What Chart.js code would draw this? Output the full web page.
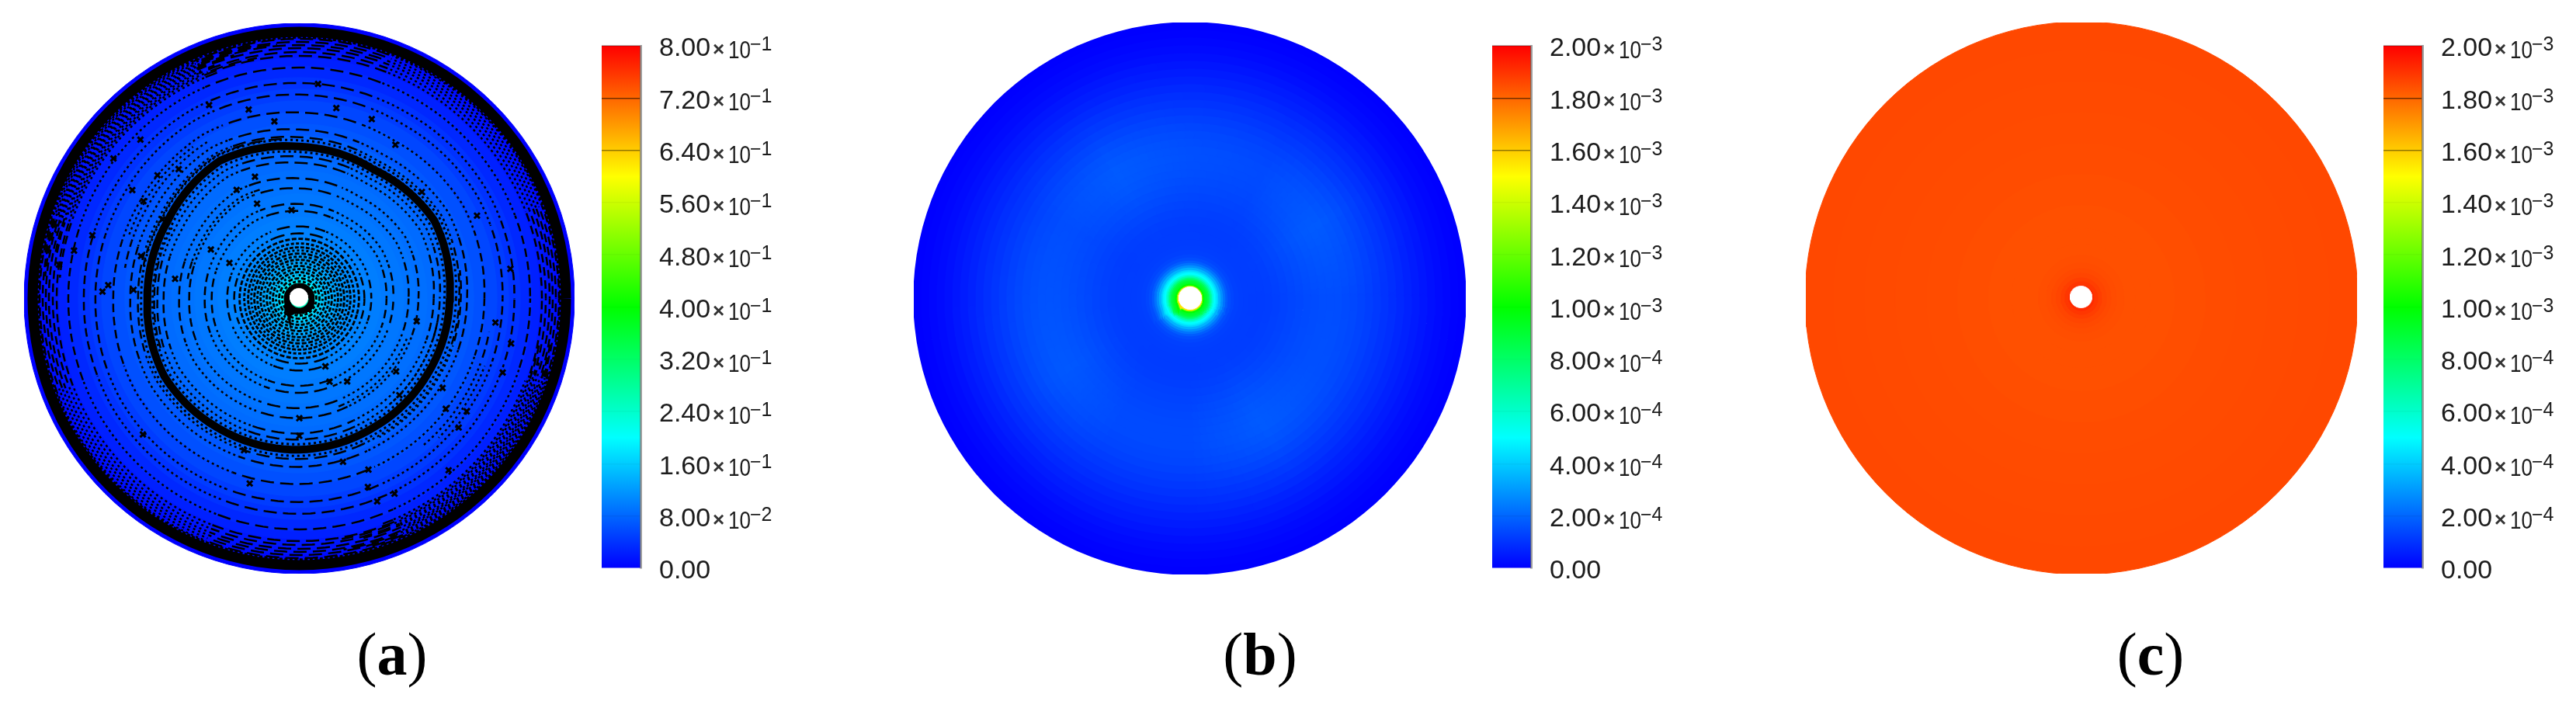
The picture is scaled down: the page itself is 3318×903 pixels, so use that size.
<!DOCTYPE html>
<html><head><meta charset="utf-8">
<style>
html,body{margin:0;padding:0;background:#fff;width:3318px;height:903px;overflow:hidden}
canvas{position:absolute;display:block}
.cap{position:absolute;font-family:"Liberation Serif",serif;font-size:78px;line-height:90px;color:#000;transform:translateX(-50%);white-space:nowrap}
.cap b{font-weight:700}
</style>
<script src="https://cdn.jsdelivr.net/npm/chart.js@4/dist/chart.umd.min.js"></script>
</head><body>
<script>
// ---- colour bar ticks -------------------------------------------------
const aTickValues = [0,0.08,0.16,0.24,0.32,0.40,0.48,0.56,0.64,0.72,0.80];
const aTickMantissa = ['0.00','8.00','1.60','2.40','3.20','4.00','4.80','5.60','6.40','7.20','8.00'];
const aTickExponent = [null,-2,-1,-1,-1,-1,-1,-1,-1,-1,-1];
const bTickValues = [0,2e-4,4e-4,6e-4,8e-4,1e-3,1.2e-3,1.4e-3,1.6e-3,1.8e-3,2e-3];
const bTickMantissa = ['0.00','2.00','4.00','6.00','8.00','1.00','1.20','1.40','1.60','1.80','2.00'];
const bTickExponent = [null,-4,-4,-4,-4,-3,-3,-3,-3,-3,-3];
const tickLineAlpha = [0.02,0.05,0.03,0.03,0.02,0.02,0.03,0.04,0.42,0.55,0.3];
// ---- colour map (fraction, r, g, b) -----------------------------------
const mapFractions = [0,0.25,0.5,0.75,1];
const mapRed   = [0,0,0,255,255];
const mapGreen = [0,255,255,255,0];
const mapBlue  = [255,255,0,0,0];
// ---- panel (a): radial field ------------------------------------------
const aRingRadii  = [355,350,340,330,320,310,300,285,270,255,240,225,210,195,180,165,150,135,120,105,90,78,70,62,55,50,45,40,35,31,28,25,22,18,14];
const aRingValues = [0,0,.008,.014,.019,.025,.031,.039,.047,.055,.063,.068,.075,.08,.084,.087,.09,.093,.096,.099,.102,.106,.11,.116,.122,.127,.133,.141,.149,.158,.169,.18,.2,.225,.25];
// streamlines of (a)
const aCoreRadii = [22,26,30,34,38,42,46,50,54,58,62,66,71,77];
const aCoreStart = [0,37,95,150,210,275,320,20,70,125,190,250,300,345];
const aStreamRadii = [84,93,113,122,142,155,175,183,208,218,240,263,278,298,313,318,323,327,331,335];
const aBandSector = [194,201,192,196,205,197,196,201,197,195,192,192]; // every 30 degrees
const aArrowRadii  = [273,250,229,289,300,240,224,256,236,203,279,297,313,247,211,214,156,163,131,114,130,101,162,115,125,156,159,183,221,239,262,266,280,280,256,240,260,281,281,294,220,94,278,251,251,236,208,251,275,254,266,208,247,178,155];
const aArrowAngles = [115,105,98,135,143,139,133,147,148,150,163,168,172,176,165,177,120,110,114,95,151,153,171,-70,-60,-11,-37,-44,-32,-37,-34,-39,-20,-12,-7,-68,-70,-69,-64,-49,-75,-69,85,79,68,58,41,25,8,178,221,250,255,270,270];
// short extra streamline arcs of (a): radius, start and end angle in degrees
const aArcRadii = [310,315,320,325,329,333,310,315,320,325,329,333,205,187,210,183,200,228,234,250,256,146,150];
const aArcStart = [110,100,110,105,95,100,290,280,285,295,280,285,95,150,-60,-50,20,120,125,-50,-45,110,-70];
const aArcEnd   = [175,160,170,165,175,170,340,350,345,340,350,345,170,200,10,-10,70,170,160,-10,-20,170,-20];
// ---- panel (b) --------------------------------------------------------
const bRingRadii  = [355,345,335,325,315,305,295,285,275,265,255,245,235,225,215,205,195,185,175,165,155,145,135,125,115,105,95,85,75,68,62,56,52,48,45,42,39,36,34,32,30,28,26,24,22,20,18,16,15];
const bRingValues = [0,.004,.012,.02,.03,.04,.05,.06,.07,.08,.088,.096,.104,.11,.116,.12,.124,.125,.125,.124,.123,.122,.12,.118,.116,.115,.115,.117,.12,.122,.125,.135,.15,.18,.225,.285,.35,.42,.47,.5,.57,.66,.76,.85,.9,.93,1.0,1.25,1.55].map(v=>v*1e-3);
const bRingHalo   = [0,0,0,0,0,.003,.005,.008,.013,.018,.023,.029,.035,.042,.047,.05,.052,.052,.05,.047,.042,.035,.029,.022,.016,.01,.006,.003,0,0,0,0,0,0,0,0,0,0,0,0,0,0,0,0,0,0,0,0,0].map(v=>v*1e-3);
const bSectorGain = [.5,1,.4,.6,1,.5,.7,.9,.4,.4,1,.6]; // every 30 degrees
// ---- panel (c) --------------------------------------------------------
const cRingRadii  = [356,320,280,240,200,160,120,90,70,55,45,38,32,26,21,16];
const cRingValues = [1.859e-3,1.857e-3,1.854e-3,1.852e-3,1.85e-3,1.847e-3,1.844e-3,1.843e-3,1.844e-3,1.847e-3,1.851e-3,1.856e-3,1.865e-3,1.878e-3,1.895e-3,1.915e-3];
const holeRadii = [11.5,14.5,14];
const holeOffsetX = [-0.5,0.5,-0.5];
const holeOffsetY = [1.5,0.5,1.5];
const captionLetters = ['a','b','c'];
// -----------------------------------------------------------------------
const STEPS = 120;
function colorFor(v, max){
  const t = Math.min(1,Math.max(0,v/max));
  let i = 0; while(i < mapFractions.length-2 && t > mapFractions[i+1]) i++;
  const f = (t-mapFractions[i])/(mapFractions[i+1]-mapFractions[i]);
  const c = a => Math.round(a[i]+(a[i+1]-a[i])*f);
  return `rgb(${c(mapRed)},${c(mapGreen)},${c(mapBlue)})`;
}
function sector(table, deg){
  const d = ((deg%360)+360)%360, p = d/30, i = Math.floor(p)%12, f = p-Math.floor(p);
  return table[i]*(1-f)+table[(i+1)%12]*f;
}
function circle(radiusAt, ox=0, oy=0, from=0, to=360){
  const pts = [], n = Math.max(4,Math.round(STEPS*(to-from)/360));
  for(let i=0;i<=n;i++){
    const deg = from+i*(to-from)/n, a = deg*Math.PI/180, r = radiusAt(deg);
    pts.push({x:ox+r*Math.cos(a), y:oy+r*Math.sin(a)});
  }
  return pts;
}
const filled = (r,color,ox,oy) => ({data:circle(()=>r,ox,oy),showLine:true,fill:'shape',backgroundColor:color,borderColor:color,borderWidth:1,pointRadius:0,tension:0});
function bandOffset(r, deg){ const w = Math.max(0,1-Math.abs(r-196)/110); return (sector(aBandSector,deg)-196)*w; }
function tangentDash(ctx){
  const p = ctx.p0.parsed, deg = Math.abs(Math.atan2(p.y,p.x)*180/Math.PI)%180;
  const fromHoriz = Math.min(deg,180-deg);            // 0 = on x axis
  if(fromHoriz<20) return [11,6];
  if(fromHoriz>68 && fromHoriz<112) return [17,8];
  return [3,4];
}
const stream = (r,i,from,to) => ({data:circle(d=>r+bandOffset(r,d),0,0,from,to),showLine:true,borderColor:'#000',borderWidth:2.5,
  pointRadius:0,tension:0,fill:false,borderDash:[6,4],borderDashOffset:i*3.7,segment:{borderDash:tangentDash}});
const coreDashes = [[4,2.5],[6,2.5],[3,3],[5,2]];
const core = (r,i) => ({data:circle(()=>r,0,0,aCoreStart[i],aCoreStart[i]+360),showLine:true,borderColor:'#000',borderWidth:2.9,pointRadius:0,tension:0,fill:false,borderDash:coreDashes[i%4],borderDashOffset:i*1.3});
const solid = (r,w,dash) => ({data:circle(d=>r+bandOffset(r,d)),showLine:true,borderColor:'#000',borderWidth:w,pointRadius:0,tension:0,fill:false,borderDash:dash||[]});

function diskChart(id,left,top,size,datasets){
  const cv=document.createElement('canvas');cv.id=id;cv.width=size;cv.height=size;
  cv.style.left=left+'px';cv.style.top=top+'px';cv.style.width=size+'px';cv.style.height=size+'px';
  document.body.appendChild(cv);
  new Chart(cv,{type:'scatter',data:{datasets},options:{responsive:false,animation:false,events:[],
    layout:{padding:0,autoPadding:false},
    plugins:{legend:{display:false},tooltip:{enabled:false},title:{display:false}},
    scales:{x:{type:'linear',min:-355,max:355,display:false},y:{type:'linear',min:-355,max:355,display:false}}}});
}
const suffixPlugin={id:'suffix',afterDraw(chart,args,opts){
  const s=chart.scales.y,ctx=chart.ctx,L=chart.chartArea.right+24;
  ctx.save();ctx.textBaseline='alphabetic';ctx.textAlign='left';
  s.ticks.forEach((t,i)=>{
    const e=opts.exponents[i]; if(e===null) return;
    const y=s.getPixelForTick(i)+4;
    ctx.fillStyle='#333';ctx.font='700 26px "Liberation Sans"';ctx.fillText('×',L+69,y+9);
    ctx.fillStyle='#1c1c1c';ctx.font='32px "Liberation Sans"';ctx.fillText('10',L+89,y+12,29);
    ctx.font='25px "Liberation Sans"';ctx.fillText('−'+Math.abs(e),L+117,y+2);
  });
  ctx.restore();
}};
function barChart(id,left,top,bottom,values,mantissa,exps){
  const cv=document.createElement('canvas');cv.id=id;const W=300;cv.width=W;cv.height=903;
  cv.style.left=left+'px';cv.style.top='0px';cv.style.width=W+'px';cv.style.height='903px';
  document.body.appendChild(cv);
  const max=values[values.length-1];
  new Chart(cv,{type:'bar',plugins:[suffixPlugin],data:{labels:[''],datasets:[{data:[[0,max]],barPercentage:1,categoryPercentage:1,borderWidth:0,
    backgroundColor(ctx){
      const a=ctx.chart.chartArea; if(!a) return '#00f';
      const g=ctx.chart.ctx.createLinearGradient(0,a.bottom,0,a.top);
      mapFractions.forEach((f,i)=>g.addColorStop(f,`rgb(${mapRed[i]},${mapGreen[i]},${mapBlue[i]})`));
      return g;
    }}]},
    options:{responsive:false,animation:false,events:[],layout:{padding:{left:0,top,bottom:903-bottom,right:0}},
    plugins:{legend:{display:false},tooltip:{enabled:false},title:{display:false},suffix:{exponents:exps}},
    scales:{x:{display:false},
      y:{type:'linear',position:'right',min:0,max,
        afterBuildTicks(s){s.ticks=values.map(value=>({value}));},
        afterFit(s){s.width=W-50;},
        border:{display:true,color:'rgba(95,95,95,.6)',width:3,z:2},
        grid:{display:true,z:1,drawTicks:false,lineWidth:1.5,color:c=>`rgba(0,0,0,${tickLineAlpha[c.index]})`},
        ticks:{autoSkip:false,padding:24,labelOffset:4,color:'#1c1c1c',font:{family:'"Liberation Sans"',size:34},
          callback:(v,i)=>mantissa[i]}}}}});
}
function caption(letter,x,y){
  const d=document.createElement('div');d.className='cap';d.style.left=x+'px';d.style.top=y+'px';
  d.append('(');const b=document.createElement('b');b.textContent=letter;d.append(b,')');document.body.appendChild(d);
}
// ---- panel a ----------------------------------------------------------
{
  const ds=[filled(holeRadii[0],'#fff',holeOffsetX[0],holeOffsetY[0])];
  ds.push({data:aArrowRadii.map((r,i)=>{const a=aArrowAngles[i]*Math.PI/180,q=r+bandOffset(r,aArrowAngles[i]);return {x:q*Math.cos(a),y:q*Math.sin(a)};}),
    showLine:false,pointStyle:'crossRot',pointRadius:5,pointBorderColor:'#000',pointBorderWidth:3});
  ds.push(solid(16,8));
  ds.push(solid(196,10));ds.push(solid(189,3,[3,4]));ds.push(solid(204,3,[3,4]));
  ds.push(solid(344,13));ds.push(solid(337,3.5,[4,2.5]));
  aCoreRadii.forEach((r,i)=>ds.push(core(r,i)));
  aStreamRadii.forEach((r,i)=>ds.push(stream(r,i)));
  aArcRadii.forEach((r,i)=>ds.push(stream(r,i+7,aArcStart[i],aArcEnd[i])));
  for(let i=aRingRadii.length-1;i>=0;i--) ds.push(filled(aRingRadii[i],colorFor(aRingValues[i],0.8)));
  diskChart('diskA',31,30,709,ds);
  barChart('barA',775,59,732,aTickValues,aTickMantissa,aTickExponent);
  caption(captionLetters[0],505,798);
}
// ---- panel b ----------------------------------------------------------
{
  const max=2e-3, ds=[filled(holeRadii[1],'#fff',holeOffsetX[1],holeOffsetY[1])];
  for(let i=bRingRadii.length-1;i>=0;i--){
    const outer=bRingRadii[i], inner=i<bRingRadii.length-1?bRingRadii[i+1]:holeRadii[1]-1;
    const mid=(outer+inner)/2, w=outer-inner+1.5;
    ds.push({data:circle(()=>mid),showLine:true,borderWidth:w,borderColor:colorFor(bRingValues[i],max),pointRadius:0,tension:0,fill:false,borderCapStyle:'round',
      segment:{borderColor(ctx){
        const p=ctx.p0.parsed, deg=Math.atan2(p.y,p.x)*180/Math.PI;
        return colorFor(bRingValues[i]+bRingHalo[i]*sector(bSectorGain,deg),max);
      }}});
  }
  diskChart('diskB',1177,29,711,ds);
  barChart('barB',1922,59,732,bTickValues,bTickMantissa,bTickExponent);
  caption(captionLetters[1],1623,798);
}
// ---- panel c ----------------------------------------------------------
{
  const ds=[filled(holeRadii[2],'#fff',holeOffsetX[2],holeOffsetY[2])];
  for(let i=cRingRadii.length-1;i>=0;i--) ds.push(filled(cRingRadii[i],colorFor(cRingValues[i],2e-3)));
  diskChart('diskC',2326,29,710,ds);
  barChart('barC',3070,59,732,bTickValues,bTickMantissa,bTickExponent);
  caption(captionLetters[2],2770,798);
}
</script>
</body></html>
